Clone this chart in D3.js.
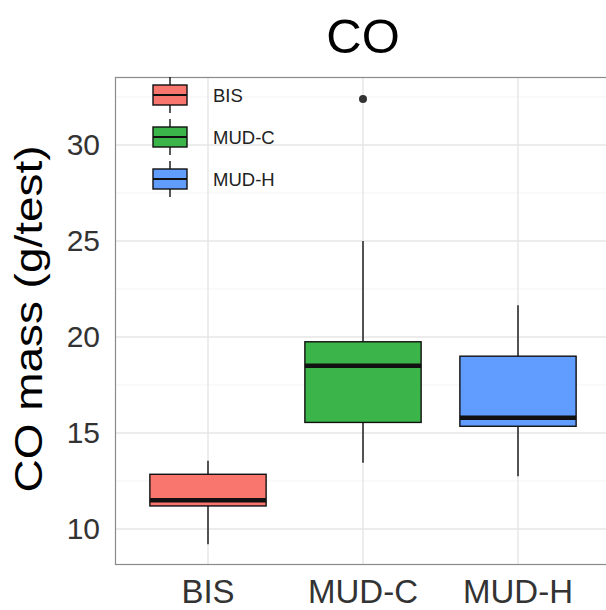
<!DOCTYPE html>
<html>
<head>
<meta charset="utf-8">
<script src="https://cdn.jsdelivr.net/npm/d3@7"></script>
<style>
  html, body { margin: 0; padding: 0; background: #fff; }
  svg { display: block; font-family: "Liberation Sans", Arial, sans-serif; }
</style>
</head>
<body>
<svg id="chart" width="606" height="610"></svg>
<script>
// ---- data ----
const categories = ["BIS", "MUD-C", "MUD-H"];
const colors = ["#F8766D", "#3bb54a", "#619CFF"];
const lowerWhisker = [9.2, 13.45, 12.75];
const q1 = [11.2, 15.55, 15.35];
const medians = [11.5, 18.5, 15.8];
const q3 = [12.85, 19.75, 19.0];
const upperWhisker = [13.55, 25.0, 21.65];
const outliers = [[], [32.4], []];
const yTicks = [10, 15, 20, 25, 30];
const yMinorTicks = [12.5, 17.5, 22.5, 27.5, 32.5];
const titleText = "CO";
const yTitle = "CO mass (g/test)";

// ---- layout ----
const panel = { left: 115, right: 611, top: 77, bottom: 565 };
const svg = d3.select("#chart");

const x = d3.scaleBand().domain(categories)
  .range([panel.left, panel.right]).paddingInner(0).paddingOuter(0.1);
const y = d3.scaleLinear().domain([8.125, 33.54]).range([panel.bottom, panel.top]);

const boxW = x.step() * 0.75;
const cx = c => x(c) + x.bandwidth() / 2;

const defs = svg.append("defs");
defs.append("clipPath").attr("id", "pclip").append("rect")
  .attr("x", panel.left).attr("y", panel.top)
  .attr("width", panel.right - panel.left).attr("height", panel.bottom - panel.top);

const g = svg.append("g").attr("clip-path", "url(#pclip)");

g.append("rect").attr("x", panel.left).attr("y", panel.top)
  .attr("width", panel.right - panel.left).attr("height", panel.bottom - panel.top)
  .attr("fill", "#fff");

// minor grid
g.selectAll("line.minor").data(yMinorTicks).join("line")
  .attr("x1", panel.left).attr("x2", panel.right)
  .attr("y1", d => y(d)).attr("y2", d => y(d))
  .attr("stroke", "#f4f4f4").attr("stroke-width", 1);
// major grid
g.selectAll("line.hmaj").data(yTicks).join("line")
  .attr("x1", panel.left).attr("x2", panel.right)
  .attr("y1", d => y(d)).attr("y2", d => y(d))
  .attr("stroke", "#e6e6e6").attr("stroke-width", 1.4);
g.selectAll("line.vmaj").data(categories).join("line")
  .attr("x1", d => cx(d)).attr("x2", d => cx(d))
  .attr("y1", panel.top).attr("y2", panel.bottom)
  .attr("stroke", "#e6e6e6").attr("stroke-width", 1.4);

// boxplots
categories.forEach((c, i) => {
  const xc = cx(c);
  const bg = g.append("g");
  bg.append("line").attr("x1", xc).attr("x2", xc)
    .attr("y1", y(q3[i])).attr("y2", y(upperWhisker[i]))
    .attr("stroke", "#111").attr("stroke-width", 1.4);
  bg.append("line").attr("x1", xc).attr("x2", xc)
    .attr("y1", y(q1[i])).attr("y2", y(lowerWhisker[i]))
    .attr("stroke", "#111").attr("stroke-width", 1.4);
  bg.append("rect").attr("x", xc - boxW / 2).attr("width", boxW)
    .attr("y", y(q3[i])).attr("height", y(q1[i]) - y(q3[i]))
    .attr("fill", colors[i]).attr("stroke", "#111").attr("stroke-width", 1.4);
  bg.append("line").attr("x1", xc - boxW / 2).attr("x2", xc + boxW / 2)
    .attr("y1", y(medians[i])).attr("y2", y(medians[i]))
    .attr("stroke", "#111").attr("stroke-width", 4.5);
  bg.selectAll("circle").data(outliers[i]).join("circle")
    .attr("cx", xc).attr("cy", d => y(d)).attr("r", 4)
    .attr("fill", "#333");
});

// panel border
svg.append("rect").attr("x", panel.left + 0.5).attr("y", panel.top + 0.5)
  .attr("width", panel.right - panel.left).attr("height", panel.bottom - panel.top - 1)
  .attr("fill", "none").attr("stroke", "#8a8a8a").attr("stroke-width", 1.2);

// axes
const yAxis = svg.append("g").attr("transform", `translate(${panel.left},0)`)
  .call(d3.axisLeft(y).tickValues(yTicks).tickSize(0).tickPadding(15));
yAxis.select(".domain").remove();
yAxis.selectAll("text").attr("font-size", 30).attr("fill", "#333")
  .attr("font-family", "Liberation Sans, Arial, sans-serif");

const xAxis = svg.append("g").attr("transform", `translate(0,${panel.bottom})`)
  .call(d3.axisBottom(x).tickSize(0).tickPadding(15));
xAxis.select(".domain").remove();
xAxis.selectAll("text").attr("font-size", 33).attr("fill", "#333")
  .attr("font-family", "Liberation Sans, Arial, sans-serif");

// title
svg.append("text").attr("x", (panel.left + panel.right) / 2).attr("y", 53)
  .attr("text-anchor", "middle").attr("font-size", 49).attr("fill", "#000")
  .text(titleText);

// y title
svg.append("text")
  .attr("transform", `translate(42,${(panel.top + panel.bottom) / 2 - 2}) rotate(-90)`)
  .attr("text-anchor", "middle").attr("font-size", 38).attr("fill", "#000")
  .attr("textLength", 347).attr("lengthAdjust", "spacingAndGlyphs")
  .text(yTitle);

// legend
const legend = svg.append("g");
const keyX = 153, keyW = 34, keyH = 20, keyStep = 42, keyY0 = 95;
categories.forEach((c, i) => {
  const yc = keyY0 + i * keyStep;
  const lg = legend.append("g");
  lg.append("line").attr("x1", keyX + keyW / 2).attr("x2", keyX + keyW / 2)
    .attr("y1", yc - 18).attr("y2", yc + 18).attr("stroke", "#111").attr("stroke-width", 1.4);
  lg.append("rect").attr("x", keyX).attr("y", yc - keyH / 2)
    .attr("width", keyW).attr("height", keyH)
    .attr("fill", colors[i]).attr("stroke", "#111").attr("stroke-width", 1.4);
  lg.append("line").attr("x1", keyX).attr("x2", keyX + keyW)
    .attr("y1", yc).attr("y2", yc).attr("stroke", "#111").attr("stroke-width", 2);
  lg.append("text").attr("x", 213).attr("y", yc + 7)
    .attr("font-size", 18.5).attr("fill", "#222").text(c);
});
</script>
</body>
</html>
